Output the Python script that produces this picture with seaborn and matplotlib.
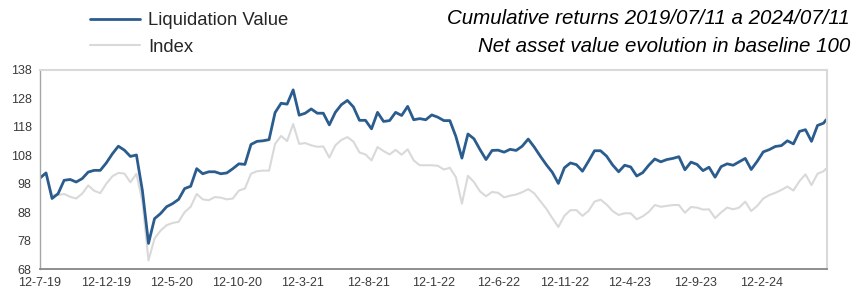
#!/usr/bin/env python3
"""Cumulative returns: liquidation value vs index, baseline 100."""

import pandas as pd
import matplotlib
matplotlib.use('Agg')
import matplotlib.pyplot as plt
import matplotlib.dates as mdates
from matplotlib.ticker import FuncFormatter
from matplotlib.lines import Line2D
import seaborn as sns

# Values, one sample every 14 days from 12-7-19,
# plus the last day (11-7-24)
start_date = '2019-07-12'
end_date = '2024-07-11'
n_samples = 131

liquidation_value = [
    100.0, 101.8, 92.8, 94.5, 99.2, 99.5, 98.6, 99.8, 102.1, 102.7,
    102.7, 105.3, 108.5, 111.2, 109.8, 107.6, 108.1, 95.4, 77.0, 85.7,
    87.5, 89.9, 91.0, 92.5, 96.3, 97.1, 103.3, 101.5, 102.2, 102.2,
    101.5, 101.8, 103.3, 105.0, 104.8, 111.8, 112.9, 113.1, 113.5, 123.0,
    126.3, 126.0, 131.0, 122.1, 122.8, 124.3, 122.8, 122.8, 118.7, 123.1,
    125.8, 127.3, 125.0, 120.3, 120.3, 117.3, 123.1, 119.9, 120.2, 123.1,
    122.0, 125.2, 120.5, 120.9, 120.5, 122.2, 121.4, 120.2, 120.2, 114.6,
    107.0, 115.5, 113.8, 110.0, 106.5, 109.7, 109.8, 109.1, 110.1, 109.7,
    111.2, 113.7, 110.9, 107.7, 104.7, 102.0, 98.1, 103.6, 105.3, 104.7,
    102.4, 105.9, 109.6, 109.6, 107.7, 104.6, 102.2, 104.5, 103.9, 100.7,
    101.9, 104.5, 106.7, 105.7, 106.5, 106.9, 107.5, 102.9, 105.6, 104.8,
    102.6, 103.8, 100.3, 104.0, 105.0, 104.5, 105.7, 106.9, 103.0, 105.9,
    109.2, 110.0, 111.1, 111.4, 113.1, 112.0, 116.4, 117.0, 112.9, 118.5,
    119.3, 120.5,
]

index_value = [
    100.0, 101.6, 94.0, 94.0, 94.4, 93.4, 92.8, 94.5, 97.4, 95.5,
    94.7, 98.0, 100.6, 101.8, 101.6, 98.5, 101.5, 91.6, 71.0, 78.7,
    81.5, 83.4, 84.2, 84.6, 88.0, 89.9, 94.4, 92.5, 92.2, 93.3,
    93.1, 92.5, 92.8, 95.6, 96.3, 101.5, 102.4, 102.6, 102.6, 112.0,
    114.8, 113.0, 119.0, 112.0, 112.3, 111.5, 111.0, 111.1, 107.2, 111.5,
    113.4, 114.4, 112.8, 109.0, 108.3, 106.2, 110.9, 109.5, 108.3, 109.9,
    108.2, 110.1, 106.2, 104.5, 104.5, 104.5, 104.3, 103.0, 103.6, 100.3,
    91.0, 100.8, 98.6, 95.3, 93.6, 95.1, 94.8, 93.2, 93.8, 94.2,
    95.0, 96.1, 94.6, 91.9, 89.2, 85.9, 82.8, 86.7, 88.7, 88.7,
    86.7, 88.4, 91.7, 92.4, 90.7, 88.4, 87.0, 87.6, 87.6, 85.5,
    86.5, 88.1, 90.5, 89.9, 90.2, 90.5, 90.5, 87.8, 89.8, 89.6,
    88.9, 89.0, 85.9, 87.9, 89.6, 89.0, 89.6, 91.7, 88.4, 90.2,
    92.8, 94.0, 94.8, 95.8, 97.0, 95.6, 98.9, 101.3, 97.5, 101.5,
    102.4, 103.3,
]

y_ticks = [68, 78, 88, 98, 108, 118, 128, 138]
title_lines = ['Cumulative returns 2019/07/11 a 2024/07/11',
               'Net asset value evolution in baseline 100']

BLUE = '#2B5C8E'
GRAY = '#D9D9D9'
TEXT = '#3A3A3A'

sns.set_style('white')
plt.rcParams['font.family'] = ['Liberation Sans', 'DejaVu Sans']

dates = list(pd.date_range(start_date, periods=n_samples, freq='14D')) + [pd.Timestamp(end_date)]
df = pd.DataFrame({'date': dates,
                   'Liquidation Value': liquidation_value,
                   'Index': index_value})

fig = plt.figure(figsize=(8.53, 2.90), dpi=100)
ax = fig.add_axes([40 / 853, 21 / 290, 787 / 853, 199 / 290])

sns.lineplot(data=df, x='date', y='Index', color=GRAY, linewidth=1.5, ax=ax)
sns.lineplot(data=df, x='date', y='Liquidation Value', color=BLUE, linewidth=2.0, ax=ax)

ax.set_xlim(pd.Timestamp('2019-07-12'), pd.Timestamp('2024-07-13'))
ax.set_ylim(68, 138)
ax.set_yticks(y_ticks)
ax.set_xticks([pd.Timestamp(start_date) + pd.DateOffset(months=5 * i) for i in range(12)])


def fmt_date(x, pos):
    d = mdates.num2date(x)
    return f"{d.day}-{d.month}-{d.strftime('%y')}"


ax.xaxis.set_major_formatter(FuncFormatter(fmt_date))
ax.set_xlabel('')
ax.set_ylabel('')
ax.tick_params(axis='x', direction='out', length=3, width=1, color='#868686',
               labelsize=9, labelcolor=TEXT, pad=3)
ax.tick_params(axis='y', length=0, labelsize=9, labelcolor=TEXT, pad=6)

ax.spines['left'].set_color('#A6A6A6')
ax.spines['left'].set_linewidth(1.0)
ax.spines['bottom'].set_color('#868686')
ax.spines['bottom'].set_linewidth(1.3)
for side in ['top', 'right']:
    ax.spines[side].set_color('#D9D9D9')
    ax.spines[side].set_linewidth(1.5)

# Legend, top left
handles = [Line2D([], [], color=BLUE, linewidth=2.0),
           Line2D([], [], color=GRAY, linewidth=1.5)]
fig.legend(handles, ['Liquidation Value', 'Index'], loc='center left',
           bbox_to_anchor=(90 / 853, 1 - 34 / 290), frameon=False,
           fontsize=13.3, handlelength=2.7, handletextpad=0.43,
           labelspacing=0.52, borderpad=0, borderaxespad=0)

# Title, top right
fig.text(850 / 853, 1 - 19 / 290, title_lines[0], ha='right', va='center',
         fontsize=14.8, style='italic', color='black')
fig.text(850 / 853, 1 - 46 / 290, title_lines[1], ha='right', va='center',
         fontsize=14.8, style='italic', color='black')

fig.savefig('out.png', dpi=100, facecolor='white')
